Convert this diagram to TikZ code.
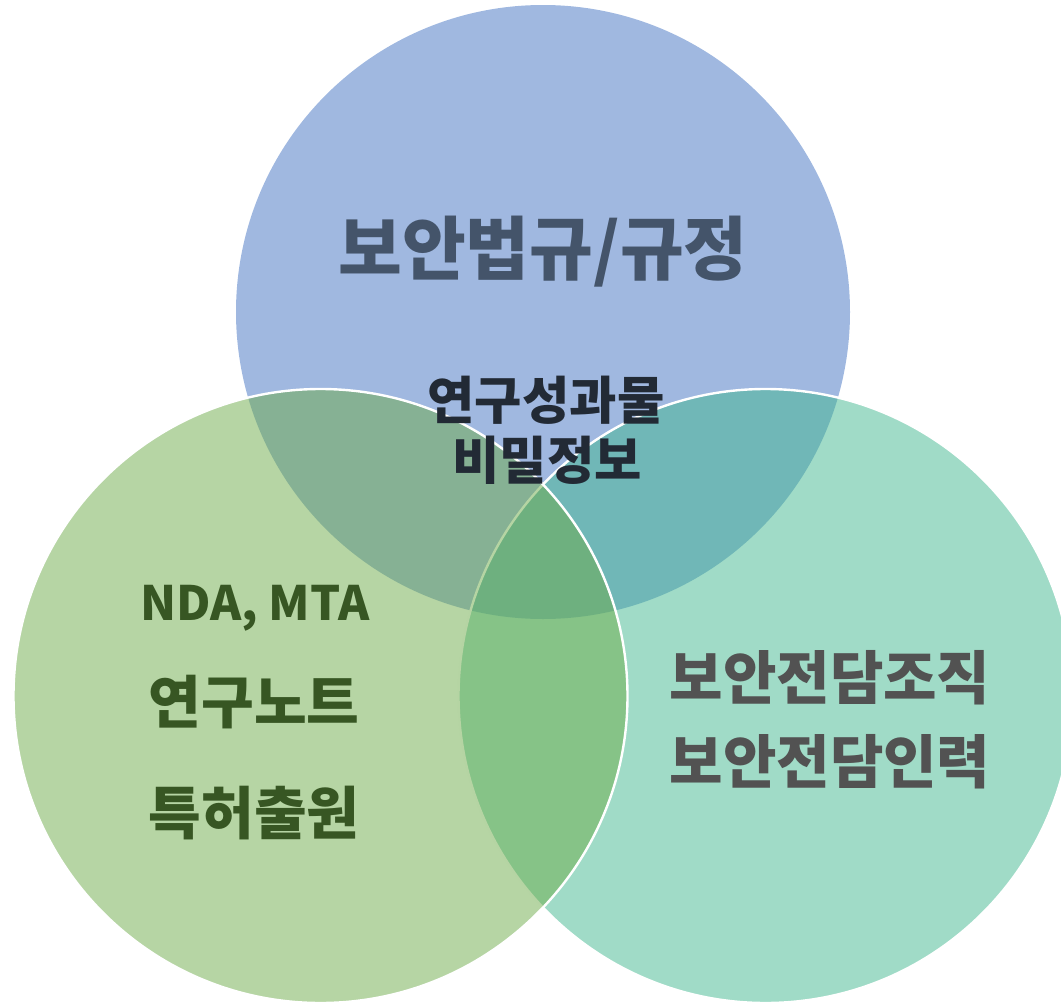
\documentclass[tikz,border=0pt]{standalone}
\usepackage{fontspec}
\newfontfamily\kr{Noto Sans CJK KR}
\usetikzlibrary{positioning}

\definecolor{setblue}{HTML}{A0B8E0}
\definecolor{setteal}{HTML}{41B78F}
\definecolor{setgreen}{HTML}{6DAB49}
\definecolor{txtblue}{HTML}{44546A}
\definecolor{txtdark}{HTML}{222A35}
\definecolor{txtgreen}{HTML}{375623}
\definecolor{txtgray}{HTML}{525252}

\tikzset{
  ring/.style={draw=white, line width=1.8pt, fill opacity=0.5},
  label/.style={font=\kr\bfseries, inner sep=0pt, anchor=center}
}

\begin{document}
\begin{tikzpicture}[x=0.75pt, y=-0.75pt]
    \useasboundingbox (0,0) rectangle (1061,1003);

        % Circles
        \fill[setblue] (543,312) circle[radius=230.25pt];
        \draw[ring, fill=setteal] (765.5,696) circle[radius=230.25pt];
        \draw[ring, fill=setgreen] (320.5,696) circle[radius=230.25pt];

        % Top set
        \node[label, text=txtblue, font=\kr\bfseries\fontsize{52}{62}\selectfont] (law) at (543,252) {보안법규/규정};

        % Middle
        \node[label, text=txtdark, font=\kr\bfseries\fontsize{38.6}{46}\selectfont] (result) at (546,400) {연구성과물};
        \node[label, text=txtdark, font=\kr\bfseries\fontsize{38.6}{46}\selectfont] (secret) at (547,460) {비밀정보};

        % Left set
        \node[label, text=txtgreen, font=\kr\bfseries\fontsize{35.5}{44}\selectfont] (nda) at (255,608) {NDA, MTA};
        \node[label, text=txtgreen, font=\kr\bfseries\fontsize{43}{52}\selectfont] (note) at (254,702) {연구노트};
        \node[label, text=txtgreen, font=\kr\bfseries\fontsize{43}{52}\selectfont] (patent) at (254,813) {특허출원};

        % Right set
        \node[label, text=txtgray, font=\kr\bfseries\fontsize{43.6}{52}\selectfont] (org) at (830,678) {보안전담조직};
        \node[label, text=txtgray, font=\kr\bfseries\fontsize{43.6}{52}\selectfont] (staff) at (830,762) {보안전담인력};
\end{tikzpicture}
\end{document}
